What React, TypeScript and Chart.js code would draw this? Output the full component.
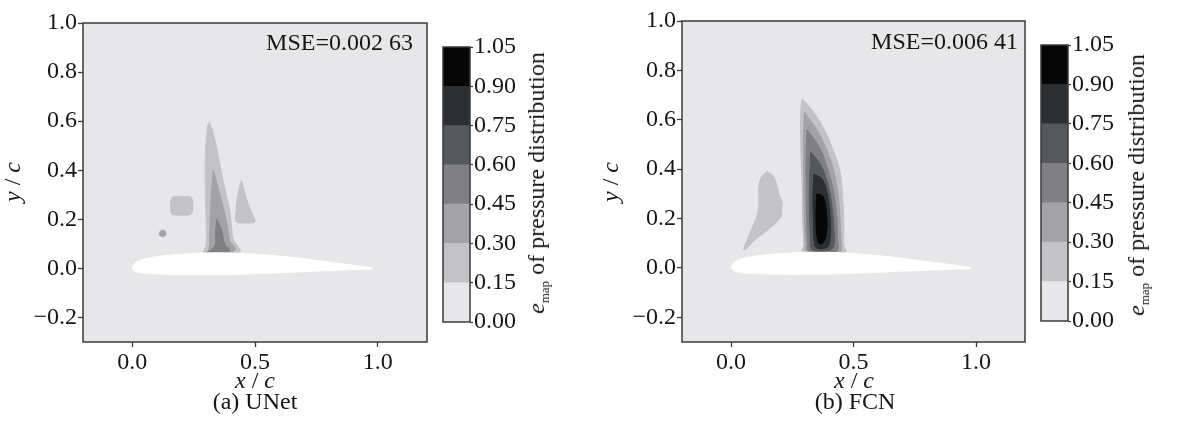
import React, { useEffect, useRef } from 'react';
import { Chart, registerables } from 'chart.js';

Chart.register(...registerables);

const FONT = "'Liberation Serif', 'Times New Roman', serif";
const INK = '#161616';

// ---- axes ----
const xTicks = [0, 0.5, 1.0];
const yTicks = [-0.2, 0, 0.2, 0.4, 0.6, 0.8, 1.0];
const xMin = -0.2;
const xMax = 1.2;
const yMin = -0.3;
const yMax = 1.0;

// ---- colour bar ----
const levelBounds = [0, 0.15, 0.3, 0.45, 0.6, 0.75, 0.9, 1.05];
const levelColors = ['#e7e7e9', '#c3c3c7', '#a3a3a7', '#808084', '#56595c', '#2c2f31', '#060606'];

// ---- airfoil (white, masked region) ----
const airfoilX = [0, 0.01, 0.03, 0.06, 0.1, 0.15, 0.2, 0.3, 0.4, 0.5, 0.6, 0.7, 0.8, 0.9, 0.975];
const airfoilUpper = [0.0, 0.02, 0.032, 0.041, 0.048, 0.054, 0.058, 0.063, 0.063, 0.058, 0.05, 0.039, 0.026, 0.013, 0.002];
const airfoilLower = [0.0, -0.011, -0.017, -0.021, -0.023, -0.025, -0.026, -0.026, -0.025, -0.022, -0.018, -0.013, -0.009, -0.005, -0.003];

// ---- (a) UNet error contours: [x/c, y/c] ----
const unetMainLv1 = [
  [0.314, 0.595], [0.33, 0.55], [0.35, 0.46], [0.367, 0.373], [0.385, 0.29], [0.396, 0.239],
  [0.405, 0.17], [0.41, 0.12], [0.43, 0.09], [0.44, 0.075], [0.435, 0.064], [0.3, 0.064],
  [0.29, 0.07], [0.3, 0.09], [0.302, 0.15], [0.3, 0.25], [0.298, 0.35], [0.298, 0.45],
  [0.302, 0.53], [0.308, 0.58],
];
const unetMainLv2 = [
  [0.33, 0.4], [0.35, 0.33], [0.37, 0.25], [0.388, 0.17], [0.398, 0.11], [0.42, 0.08],
  [0.405, 0.067], [0.315, 0.067], [0.315, 0.1], [0.318, 0.2], [0.322, 0.3],
];
const unetMainLv3 = [
  [0.345, 0.2], [0.366, 0.15], [0.376, 0.1], [0.398, 0.075], [0.39, 0.066], [0.305, 0.066],
  [0.32, 0.074], [0.338, 0.1], [0.34, 0.15],
];
const unetSpikeLv1 = [
  [0.445, 0.36], [0.455, 0.32], [0.47, 0.27], [0.49, 0.22], [0.5, 0.19], [0.46, 0.185],
  [0.425, 0.19], [0.423, 0.24], [0.43, 0.3],
];
const unetSquareLv1 = [
  [0.165, 0.292], [0.235, 0.292], [0.245, 0.28], [0.245, 0.23], [0.235, 0.219], [0.165, 0.219],
  [0.158, 0.23], [0.158, 0.28],
];
const unetDotLv1 = [
  [0.115, 0.152], [0.13, 0.155], [0.138, 0.142], [0.13, 0.13], [0.115, 0.132], [0.11, 0.142],
];

// ---- (b) FCN error contours: [x/c, y/c] ----
const fcnMainLv1 = [
  [0.29, 0.685], [0.33, 0.64], [0.37, 0.58], [0.4, 0.52], [0.425, 0.455], [0.445, 0.39],
  [0.455, 0.3], [0.46, 0.2], [0.46, 0.12], [0.462, 0.085], [0.47, 0.07], [0.46, 0.063],
  [0.3, 0.063], [0.29, 0.07], [0.297, 0.093], [0.292, 0.2], [0.29, 0.337], [0.286, 0.45],
  [0.284, 0.55], [0.285, 0.64],
];
const fcnMainLv2 = [
  [0.3, 0.63], [0.35, 0.56], [0.39, 0.48], [0.42, 0.39], [0.437, 0.3], [0.445, 0.2],
  [0.448, 0.12], [0.452, 0.075], [0.445, 0.066], [0.31, 0.066], [0.303, 0.1], [0.298, 0.25],
  [0.296, 0.4], [0.296, 0.54],
];
const fcnMainLv3 = [
  [0.31, 0.56], [0.36, 0.49], [0.395, 0.4], [0.42, 0.3], [0.432, 0.2], [0.435, 0.12],
  [0.438, 0.08], [0.43, 0.068], [0.318, 0.068], [0.312, 0.1], [0.308, 0.25], [0.306, 0.43],
];
const fcnMainLv4 = [
  [0.325, 0.47], [0.365, 0.42], [0.395, 0.34], [0.412, 0.25], [0.42, 0.16], [0.42, 0.09],
  [0.405, 0.072], [0.332, 0.072], [0.324, 0.12], [0.32, 0.3],
];
const fcnMainLv5 = [
  [0.338, 0.38], [0.372, 0.36], [0.395, 0.29], [0.405, 0.2], [0.405, 0.12], [0.395, 0.085],
  [0.36, 0.078], [0.342, 0.09], [0.336, 0.2], [0.334, 0.3],
];
const fcnMainLv6 = [
  [0.35, 0.3], [0.375, 0.29], [0.39, 0.22], [0.39, 0.14], [0.375, 0.1], [0.358, 0.1],
  [0.348, 0.16], [0.347, 0.24],
];
const fcnLeftLv1 = [
  [0.147, 0.39], [0.17, 0.375], [0.188, 0.333], [0.195, 0.3], [0.208, 0.268], [0.207, 0.235],
  [0.204, 0.207], [0.18, 0.18], [0.155, 0.158], [0.125, 0.135], [0.102, 0.118], [0.075, 0.09],
  [0.053, 0.073], [0.058, 0.095], [0.073, 0.13], [0.09, 0.17], [0.102, 0.2], [0.112, 0.24],
  [0.114, 0.268], [0.114, 0.333], [0.127, 0.373],
];

type Region = { pts: number[][]; level: number };

const unetRegions: Region[] = [
  { pts: unetMainLv1, level: 1 },
  { pts: unetSpikeLv1, level: 1 },
  { pts: unetSquareLv1, level: 1 },
  { pts: unetDotLv1, level: 2 },
  { pts: unetMainLv2, level: 2 },
  { pts: unetMainLv3, level: 3 },
];
const fcnRegions: Region[] = [
  { pts: fcnMainLv1, level: 1 },
  { pts: fcnLeftLv1, level: 1 },
  { pts: fcnMainLv2, level: 2 },
  { pts: fcnMainLv3, level: 3 },
  { pts: fcnMainLv4, level: 4 },
  { pts: fcnMainLv5, level: 5 },
  { pts: fcnMainLv6, level: 6 },
];

const fmt1 = (v: number | string) => Number(v).toFixed(1).replace('-', '\u2212');
const fmt2 = (v: number | string) => Number(v).toFixed(2);

const bgPlugin = {
  id: 'areaBg',
  beforeDraw(chart: any) {
    const { ctx, chartArea: a } = chart;
    ctx.save();
    ctx.fillStyle = levelColors[0];
    ctx.fillRect(a.left, a.top, a.right - a.left, a.bottom - a.top);
    ctx.restore();
  },
};

const framePlugin = {
  id: 'frame',
  afterDraw(chart: any) {
    const { ctx, chartArea: a } = chart;
    ctx.save();
    ctx.strokeStyle = '#3a3a3a';
    ctx.lineWidth = 1.5;
    ctx.strokeRect(a.left, a.top, a.right - a.left, a.bottom - a.top);
    ctx.restore();
  },
};

function polyDataset(pts: number[][], color: string, order: number, tension: number) {
  const closed = [...pts, pts[0]];
  return {
    data: closed.map(([x, y]) => ({ x, y })),
    borderColor: color,
    backgroundColor: color,
    borderWidth: 1,
    fill: 'shape',
    pointRadius: 0,
    pointHoverRadius: 0,
    tension,
    order,
  };
}

function contourConfig(regions: Region[], padTop: number, padRight: number, yAxisWidth: number, xAxisHeight: number) {
  const datasets: any[] = regions.map((r, i) => polyDataset(r.pts, levelColors[r.level], 100 - i, 0.35));
  const airfoil = [
    ...airfoilX.map((x, i) => [x, airfoilUpper[i]]),
    ...airfoilX.slice().reverse().map((x, i) => [x, airfoilLower[airfoilX.length - 1 - i]]),
  ];
  datasets.push(polyDataset(airfoil, '#ffffff', 0, 0.2));
  const tickFont = { family: FONT, size: 24 };
  return {
    type: 'line' as const,
    data: { datasets },
    options: {
      responsive: false,
      animation: false as const,
      events: [],
      layout: { padding: { top: padTop, right: padRight, left: 0, bottom: 0 } },
      plugins: { legend: { display: false }, tooltip: { enabled: false }, title: { display: false } },
      scales: {
        x: {
          type: 'linear' as const,
          min: xMin,
          max: xMax,
          afterBuildTicks: (s: any) => { s.ticks = xTicks.map((v) => ({ value: v })); },
          afterFit: (s: any) => { s.height = xAxisHeight; },
          ticks: { callback: fmt1, font: tickFont, color: INK, padding: 1, maxRotation: 0, autoSkip: false },
          grid: { drawOnChartArea: false, drawTicks: true, tickLength: 5, tickColor: '#3a3a3a', tickWidth: 1.3 },
          border: { display: false },
        },
        y: {
          type: 'linear' as const,
          min: yMin,
          max: yMax,
          afterBuildTicks: (s: any) => { s.ticks = yTicks.map((v) => ({ value: v })); },
          afterFit: (s: any) => { s.width = yAxisWidth; },
          ticks: { callback: fmt1, font: tickFont, color: INK, padding: 1, autoSkip: false },
          grid: { drawOnChartArea: false, drawTicks: true, tickLength: 5, tickColor: '#3a3a3a', tickWidth: 1.3 },
          border: { display: false },
        },
      },
    },
    plugins: [bgPlugin, framePlugin],
  };
}

function colorbarConfig(padTop: number, padBottom: number) {
  const datasets = levelColors.map((c, i) => ({
    data: [levelBounds[i + 1] - levelBounds[i]],
    backgroundColor: c,
    borderWidth: 0,
    barPercentage: 1,
    categoryPercentage: 1,
  }));
  return {
    type: 'bar' as const,
    data: { labels: [''], datasets },
    options: {
      responsive: false,
      animation: false as const,
      events: [],
      layout: { padding: { top: padTop, bottom: padBottom, left: 13, right: 0 } },
      plugins: { legend: { display: false }, tooltip: { enabled: false } },
      scales: {
        x: { stacked: true, display: false },
        y: {
          stacked: true,
          position: 'right' as const,
          min: levelBounds[0],
          max: levelBounds[levelBounds.length - 1],
          afterBuildTicks: (s: any) => { s.ticks = levelBounds.map((v) => ({ value: v })); },
          afterFit: (s: any) => { s.width = 60; },
          ticks: { callback: fmt2, font: { family: FONT, size: 24 }, color: INK, padding: 1, autoSkip: false },
          grid: { drawOnChartArea: false, drawTicks: true, tickLength: 3, tickColor: '#3a3a3a', tickWidth: 1.2 },
          border: { display: false },
        },
      },
    },
    plugins: [framePlugin],
  };
}

function ChartCanvas(props: { make: () => any; left: number; top: number; width: number; height: number }) {
  const ref = useRef<HTMLCanvasElement>(null);
  useEffect(() => {
    const chart = new Chart(ref.current as HTMLCanvasElement, props.make());
    return () => chart.destroy();
  }, []);
  return (
    <canvas
      ref={ref}
      width={props.width}
      height={props.height}
      style={{ position: 'absolute', left: props.left, top: props.top, width: props.width, height: props.height }}
    />
  );
}

const textBase: React.CSSProperties = {
  position: 'absolute',
  fontFamily: FONT,
  fontSize: 24,
  lineHeight: '24px',
  color: INK,
  whiteSpace: 'nowrap',
};

function Centered(props: { x: number; top: number; children: React.ReactNode }) {
  return (
    <div style={{ ...textBase, left: props.x, top: props.top, transform: 'translateX(-50%)' }}>{props.children}</div>
  );
}

function Rotated(props: { x: number; y: number; children: React.ReactNode }) {
  return (
    <div style={{ ...textBase, left: props.x, top: props.y, transform: 'translate(-50%, -50%) rotate(-90deg)' }}>
      {props.children}
    </div>
  );
}

const cbTitle = (
  <span>
    <i>e</i>
    <span style={{ fontSize: 13, position: 'relative', top: 5 }}>map</span> of pressure distribution
  </span>
);

export default function App() {
  return (
    <div style={{ position: 'absolute', left: 0, top: 0, width: 1203, height: 422, background: '#fff', overflow: 'hidden' }}>
      <ChartCanvas make={() => contourConfig(unetRegions, 23, 13, 83, 43)} left={0} top={0} width={440} height={385} />
      <ChartCanvas make={() => colorbarConfig(47, 18)} left={430} top={0} width={100} height={340} />
      <ChartCanvas make={() => contourConfig(fcnRegions, 21, 15, 82, 43)} left={600} top={0} width={440} height={385} />
      <ChartCanvas make={() => colorbarConfig(45, 19)} left={1028} top={0} width={100} height={340} />

      <div style={{ ...textBase, right: 1203 - 413, top: 30 }}>MSE=0.002 63</div>
      <div style={{ ...textBase, right: 1203 - 1018, top: 29 }}>MSE=0.006 41</div>

      <Rotated x={12} y={182}><i>y</i> / <i>c</i></Rotated>
      <Rotated x={610} y={182}><i>y</i> / <i>c</i></Rotated>

      <Centered x={255} top={368}><i>x</i> / <i>c</i></Centered>
      <Centered x={854} top={368}><i>x</i> / <i>c</i></Centered>
      <Centered x={255} top={389}>(a) UNet</Centered>
      <Centered x={855} top={389}>(b) FCN</Centered>

      <Rotated x={538} y={183}>{cbTitle}</Rotated>
      <Rotated x={1138} y={185}>{cbTitle}</Rotated>
    </div>
  );
}
